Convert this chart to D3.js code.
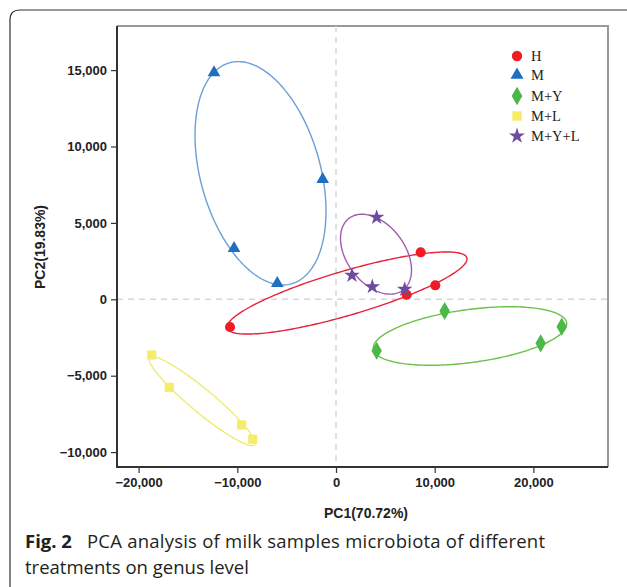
<!DOCTYPE html>
<html>
<head>
<meta charset="utf-8">
<script src="https://cdn.jsdelivr.net/npm/d3@7.9.0/dist/d3.min.js"></script>
<style>
  body { margin: 0; background: #fff; }
  svg { display: block; }
</style>
</head>
<body>
<svg id="chart" width="627" height="587"></svg>
<script>
// group names, in legend order
const groups = ['H', 'M', 'M+Y', 'M+L', 'M+Y+L'];

// PCA scores per group (PC1, PC2)
const scoresH = [[8580, 3075], [10060, 915], [7160, 300], [-10740, -1810]];
const scoresM = [[-12360, 14830], [-1350, 7850], [-10330, 3340], [-5950, 1050]];
const scoresMY = [[11010, -765], [4120, -3365], [20740, -2880], [22870, -1790]];
const scoresML = [[-18670, -3645], [-16890, -5760], [-9560, -8225], [-8440, -9160]];
const scoresMYL = [[4120, 5365], [1620, 1570], [3680, 825], [6960, 650]];

// group ellipses (PC1, PC2), in legend order:
// centre, right-most point, and top of the vertical chord through the centre
const ellipseCenter = [[1115, 412], [-7650, 8247], [13577, -2402], [-13577, -6656], [4053, 2952]];
const ellipseRight = [[13273, 2638], [-1013, 5760], [23375, -1617], [-8207, -9405], [7650, 1918]];
const ellipseTop = [[1115, 1918], [-7650, 15119], [13577, -654], [-13577, -5675], [4053, 5354]];

const xTicks = [-20000, -10000, 0, 10000, 20000];
const yTicks = [-10000, -5000, 0, 5000, 10000, 15000];

const series = [
  { name: 'H', points: scoresH, symbol: d3.symbolCircle, size: 80, fill: '#ee1c25', ring: '#e8213a' },
  { name: 'M', points: scoresM, symbol: d3.symbolTriangle, size: 70, fill: '#1f6ec0', ring: '#6a9fd8' },
  { name: 'M+Y', points: scoresMY, symbol: d3.symbolDiamond, size: 95, fill: '#4cb848', ring: '#6cc24a' },
  { name: 'M+L', points: scoresML, symbol: d3.symbolSquare, size: 85, fill: '#f7ec6a', ring: '#eeec72' },
  { name: 'M+Y+L', points: scoresMYL, symbol: d3.symbolStar, size: 75, fill: '#6d4c9f', ring: '#a25bb3' },
];

const svg = d3.select('#chart');

// outer figure frame (cropped page box)
svg.append('path')
  .attr('d', 'M10,640 L10,20 Q10,10 20,10 L640,10')
  .attr('fill', 'none')
  .attr('stroke', '#333')
  .attr('stroke-width', 1.2);

const plot = { left: 117, right: 608, top: 26, bottom: 467 };

const x = d3.scaleLinear().domain([-22190, 27560]).range([plot.left, plot.right]);
const y = d3.scaleLinear().domain([-10975, 17886]).range([plot.bottom, plot.top]);

// top and right frame (gray)
svg.append('path')
  .attr('d', `M${plot.left},${plot.top}H${plot.right}V${plot.bottom}`)
  .attr('fill', 'none')
  .attr('stroke', '#9a9a9a')
  .attr('stroke-width', 2);

// zero reference lines
svg.append('line')
  .attr('x1', x(0)).attr('x2', x(0))
  .attr('y1', plot.top).attr('y2', plot.bottom)
  .attr('stroke', '#d6d6d6').attr('stroke-width', 1.5).attr('stroke-dasharray', '6,5');
svg.append('line')
  .attr('x1', plot.left).attr('x2', plot.right)
  .attr('y1', y(0)).attr('y2', y(0))
  .attr('stroke', '#d6d6d6').attr('stroke-width', 1.5).attr('stroke-dasharray', '6,5');

// axes
const xAxis = d3.axisBottom(x).tickValues(xTicks).tickSize(6).tickSizeOuter(0).tickFormat(d3.format(','));
const yAxis = d3.axisLeft(y).tickValues(yTicks).tickSize(6).tickSizeOuter(0).tickFormat(d3.format(','));

const gx = svg.append('g').attr('transform', `translate(0,${plot.bottom})`).call(xAxis);
const gy = svg.append('g').attr('transform', `translate(${plot.left},0)`).call(yAxis);

for (const g of [gx, gy]) {
  g.select('.domain').attr('stroke', '#333').attr('stroke-width', 2);
  g.selectAll('.tick line').attr('stroke', '#333').attr('stroke-width', 1.2);
  g.selectAll('.tick text')
    .attr('fill', '#222')
    .style('font-family', '"Liberation Sans", Arial, sans-serif')
    .style('font-weight', 'bold')
    .style('font-size', '13px');
}
gx.select('.domain').attr('d', `M${plot.left - 1},0H${plot.right}`);
gy.select('.domain').attr('d', `M0,${plot.top}V${plot.bottom + 1}`);
gx.selectAll('.tick text').attr('dy', '0.71em').attr('y', 11);
gy.selectAll('.tick text').attr('x', -10);

// axis titles
svg.append('text')
  .attr('x', 366).attr('y', 518)
  .attr('text-anchor', 'middle')
  .style('font-family', '"Liberation Sans", Arial, sans-serif')
  .style('font-weight', 'bold').style('font-size', '14px').attr('fill', '#222')
  .text('PC1(70.72%)');
svg.append('text')
  .attr('transform', 'translate(45,247) rotate(-90)')
  .attr('text-anchor', 'middle')
  .style('font-family', '"Liberation Sans", Arial, sans-serif')
  .style('font-weight', 'bold').style('font-size', '14px').attr('fill', '#222')
  .text('PC2(19.83%)');

// ellipse outline from centre and two conjugate semi-diameters
function ellipsePoints(c, r, t) {
  const u = [r[0] - c[0], r[1] - c[1]];
  const v = [t[0] - c[0], t[1] - c[1]];
  return d3.range(0, 360, 1.5).map((deg) => {
    const a = (deg * Math.PI) / 180;
    return [c[0] + u[0] * Math.cos(a) + v[0] * Math.sin(a), c[1] + u[1] * Math.cos(a) + v[1] * Math.sin(a)];
  });
}

const line = d3.line().x((d) => x(d[0])).y((d) => y(d[1])).curve(d3.curveLinearClosed);

const rings = svg.append('g').attr('class', 'ellipses');
series.forEach((s, i) => {
  rings.append('path')
    .attr('d', line(ellipsePoints(ellipseCenter[i], ellipseRight[i], ellipseTop[i])))
    .attr('fill', 'none')
    .attr('stroke', s.ring)
    .attr('stroke-width', 1.4);
});

const marks = svg.append('g').attr('class', 'points');
series.forEach((s) => {
  marks.selectAll(null)
    .data(s.points)
    .join('path')
    .attr('transform', (d) => `translate(${x(d[0])},${y(d[1])})`)
    .attr('d', d3.symbol(s.symbol, s.size))
    .attr('fill', s.fill);
});

// legend
const legend = svg.append('g').attr('transform', 'translate(517,56)');
const legendRows = [0, 19, 40, 60, 80];
groups.forEach((name, i) => {
  const s = series.find((d) => d.name === name);
  const row = legend.append('g').attr('transform', `translate(0,${legendRows[i]})`);
  row.append('path').attr('d', d3.symbol(s.symbol, s.size * 1.05)).attr('fill', s.fill);
  row.append('text')
    .attr('x', 14).attr('y', 5)
    .style('font-family', '"Liberation Serif", "Times New Roman", serif')
    .style('font-size', '14.5px').attr('fill', '#222')
    .text(name);
});

// caption
const cap = svg.append('text')
  .style('font-family', '"Open Sans", "Noto Sans", sans-serif')
  .style('font-size', '18.5px').attr('fill', '#231f20');
cap.append('tspan').attr('x', 25).attr('y', 548).style('font-weight', 'bold').text('Fig. 2');
cap.append('tspan').attr('x', 87).attr('y', 548)
  .attr('textLength', 458).attr('lengthAdjust', 'spacing')
  .text('PCA analysis of milk samples microbiota of different');
cap.append('tspan').attr('x', 25).attr('y', 574).text('treatments on genus level');
</script>
</body>
</html>
